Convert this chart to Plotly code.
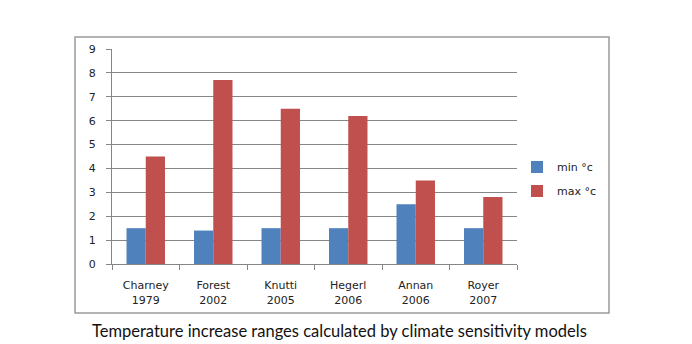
import plotly.graph_objects as go

categories = ["Charney<br>1979", "Forest<br>2002", "Knutti<br>2005", "Hegerl<br>2006", "Annan<br>2006", "Royer<br>2007"]
min_values = [1.5, 1.4, 1.5, 1.5, 2.5, 1.5]
max_values = [4.5, 7.7, 6.5, 6.2, 3.5, 2.8]
y_ticks = list(range(0, 10))
title_text = "Temperature increase ranges calculated by climate sensitivity models"

W, H = 692, 344
L, R, T, B = 112, 175, 49, 80
pw = W - L - R
ph = H - T - B

def px_x(x):
    return (x - L) / pw

def px_y(y):
    return (H - B - y) / ph

fig = go.Figure()
fig.add_trace(go.Bar(x=categories, y=min_values, name="min °c", legendgroup="a",
                     marker=dict(color="#4F81BD", line=dict(width=0))))
fig.add_trace(go.Bar(x=categories, y=max_values, name="max °c", legendgroup="b",
                     marker=dict(color="#C0504D", line=dict(width=0))))

fig.update_layout(
    width=W, height=H,
    margin=dict(l=L, r=R, t=T, b=B),
    paper_bgcolor="white", plot_bgcolor="white",
    barmode="group", bargap=0.43, bargroupgap=0,
    font=dict(family="DejaVu Sans", size=11, color="#222222"),
    showlegend=True,
    legend=dict(x=px_x(517), y=px_y(179), xanchor="left", yanchor="middle",
                font=dict(size=11), itemwidth=30, traceorder="grouped", tracegroupgap=5,
                bgcolor="rgba(0,0,0,0)"),
    xaxis=dict(showline=True, linecolor="#868686", linewidth=1, ticks="outside", ticklen=5,
               tickcolor="#868686", tickson="boundaries", showgrid=False, tickfont=dict(size=11),
               ticklabelstandoff=11),
    yaxis=dict(range=[0, 9], tickvals=y_ticks, showline=True, linecolor="#868686", linewidth=1,
               ticks="outside", ticklen=5, tickcolor="#868686", showgrid=True, gridcolor="#868686",
               gridwidth=1, zeroline=False, tickfont=dict(size=11), ticklabelstandoff=8),
    shapes=[dict(type="rect", xref="paper", yref="paper", x0=px_x(75), x1=px_x(609), y0=px_y(313), y1=px_y(37),
                 line=dict(color="#9a9a9a", width=1.5), fillcolor="rgba(0,0,0,0)", layer="below")],
    annotations=[dict(text=title_text, xref="paper", yref="paper", x=px_x(339), y=px_y(331),
                      xanchor="center", yanchor="middle", showarrow=False,
                      font=dict(family="Lato", size=16.5, color="#111111"))],
)

fig.write_html("out.html")
